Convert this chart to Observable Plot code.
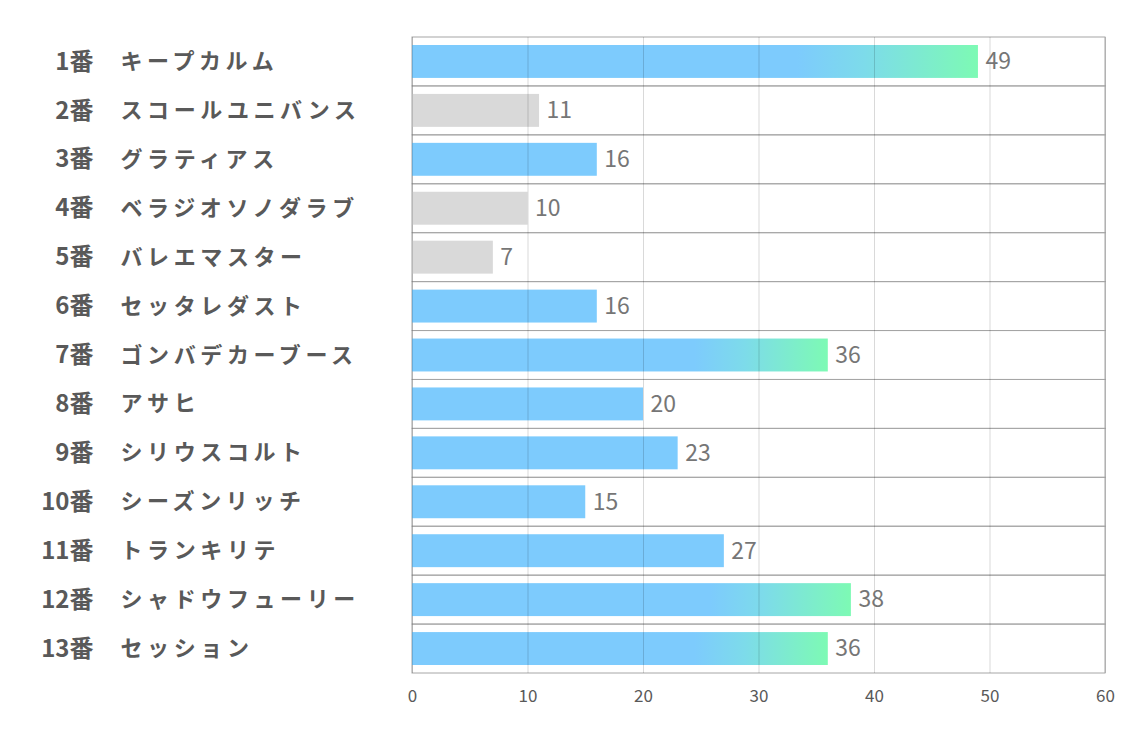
<!DOCTYPE html>
<html><head><meta charset="utf-8">
<script src="https://cdn.jsdelivr.net/npm/d3@7"></script>
<script src="https://cdn.jsdelivr.net/npm/@observablehq/plot@0.6"></script>
<style>body{margin:0;background:#fff}</style>
</head><body><div id="chart"></div>
<script>
const horseNumbers = [1, 2, 3, 4, 5, 6, 7, 8, 9, 10, 11, 12, 13];
const horseNames = ["キープカルム", "スコールユニバンス", "グラティアス", "ベラジオソノダラブ", "バレエマスター", "セッタレダスト", "ゴンバデカーブース", "アサヒ", "シリウスコルト", "シーズンリッチ", "トランキリテ", "シャドウフューリー", "セッション"];
const votes = [49, 11, 16, 10, 7, 16, 36, 20, 23, 15, 27, 38, 36];
const barStyles = ["grad", "gray", "blue", "gray", "gray", "blue", "grad", "blue", "blue", "blue", "blue", "grad", "grad"];
const xTicks = [0, 10, 20, 30, 40, 50, 60];

const rows = horseNames.map((name, i) => ({num: horseNumbers[i] + "番", name, value: votes[i], style: barStyles[i]}));
const fills = {grad: "url(#barGrad)", gray: "#d9d9d9", blue: "#7dcbfd"};
const font = "'Noto Sans CJK JP', 'Noto Sans', sans-serif";

const chart = Plot.plot({
  width: 1134,
  height: 737,
  marginLeft: 412,
  marginRight: 29,
  marginTop: 37,
  marginBottom: 64,
  style: {fontFamily: font, background: "#fff"},
  x: {domain: [0, 60], label: null, axis: null},
  y: {domain: horseNames, padding: 0, round: false, axis: null},
  color: {type: "identity"},
  marks: [
    Plot.barX(rows, {x1: 0, x2: 60, y: "name", fill: "none", stroke: "#a6a6a6", strokeWidth: 1, inset: 0}),
    Plot.barX(rows, {x: "value", y: "name", fill: d => fills[d.style], insetTop: 8, insetBottom: 8}),
    Plot.ruleX(xTicks, {stroke: "#000", strokeOpacity: 0.15}),
    Plot.text(xTicks, {x: d => d, text: d => String(d), frameAnchor: "bottom", lineAnchor: "middle", dy: 23, fill: "#595959", fontSize: 17}),
    Plot.text(rows, {x: "value", y: "name", text: d => String(d.value), textAnchor: "start", dx: 7, fill: "#767676", fontSize: 23}),
    Plot.text(rows, {y: "name", text: "num", frameAnchor: "left", textAnchor: "end", dx: -319, fill: "#595959", fontSize: 24, fontWeight: "bold"}),
    Plot.text(rows, {y: "name", text: "name", frameAnchor: "left", textAnchor: "start", dx: -292, fill: "#595959", fontSize: 22, fontWeight: "bold", className: "horse-name"})
  ]
});

const defs = d3.select(chart).insert("defs", ":first-child");
const g = defs.append("linearGradient").attr("id", "barGrad").attr("x1", 0).attr("x2", 1).attr("y1", 0).attr("y2", 0);
g.append("stop").attr("offset", "0").attr("stop-color", "#7dcbfd");
g.append("stop").attr("offset", "0.68").attr("stop-color", "#7dcbfd");
g.append("stop").attr("offset", "0.8").attr("stop-color", "#7ddbea");
g.append("stop").attr("offset", "1").attr("stop-color", "#7dfab4");

d3.select(chart).selectAll(".horse-name, .horse-name text").style("letter-spacing", "4.6px");
document.getElementById("chart").appendChild(chart);
</script>
</body></html>
